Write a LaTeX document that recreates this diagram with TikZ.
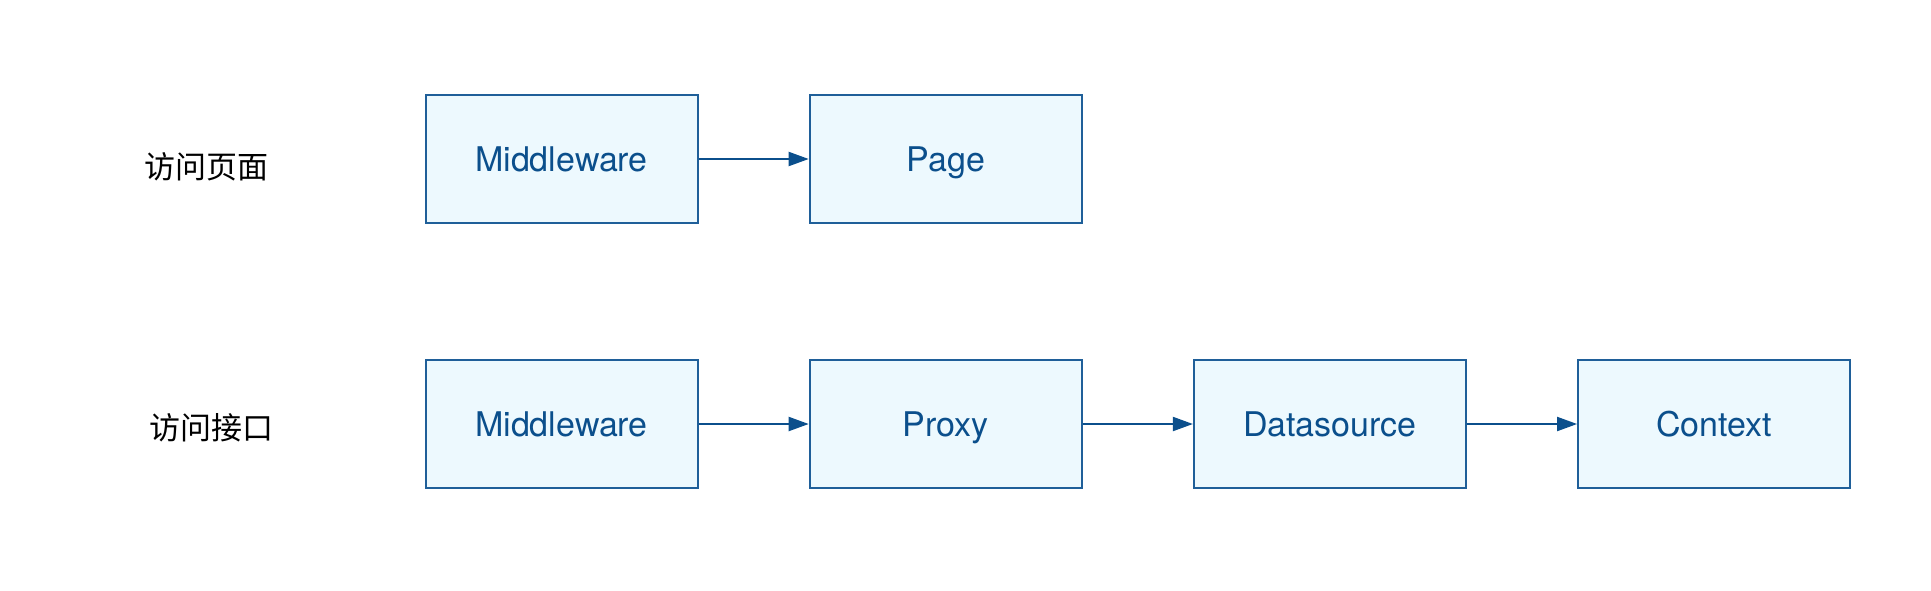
\documentclass[tikz,border=0pt]{standalone}
\usepackage{fontspec}
\setmainfont{TeX Gyre Heros}
\newfontfamily\cjk{Noto Sans CJK SC}
\usetikzlibrary{arrows.meta,positioning}
\definecolor{boxline}{HTML}{1F5F99}
\definecolor{boxfill}{HTML}{EDF9FE}
\definecolor{boxtext}{HTML}{0B4F8C}

\begin{document}
\begin{tikzpicture}[x=0.5pt,y=-0.5pt,% styles for the whole picture
					node distance=55.1pt,
					block/.style={
						rectangle,draw=boxline,fill=boxfill,line width=1pt,
						minimum width=136pt,minimum height=64pt,
						text height=12.2pt,text depth=0pt,
						text=boxtext,font=\fontsize{17}{20}\selectfont
						},
					rowlabel/.style={font=\cjk\fontsize{15.5}{18}\selectfont},
					every edge/.style={draw=boxtext,line width=1pt,-{Triangle[length=10pt,width=7pt]}}
					]
\useasboundingbox (0,0) rectangle (1931,590);
% first row
\node[block](M1) at (561.5,159){Middleware};
\node[block](P1)[right= of M1]{Page};
\node[rowlabel](L1) at (206,167){访问页面};
% second row
\node[block](M2) at (561.5,424){Middleware};
\node[block](P2)[right= of M2]{Proxy};
\node[block](D2)[right= of P2]{Datasource};
\node[block](C2)[right= of D2]{Context};
\node[rowlabel](L2) at (211,428){访问接口};
\path
(M1)edge (P1)
(M2)edge (P2)
(P2)edge (D2)
(D2)edge (C2)
;
\end{tikzpicture}
\end{document}
